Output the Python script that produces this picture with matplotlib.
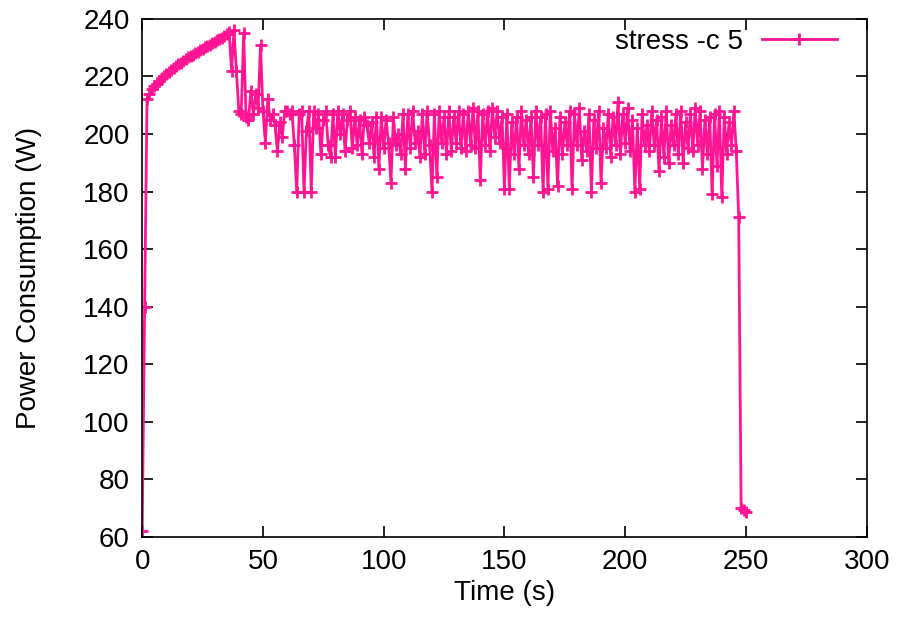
import numpy as np
import matplotlib
matplotlib.use("Agg")
import matplotlib.pyplot as plt

# power readings, one per second
warmup = [62, 140, 212, 214, 215.5, 216.5, 217.5, 218.5, 219.5, 220.3,
          221, 221.7, 222.3, 223, 223.6, 224.2, 224.8, 225.4, 226, 226.6,
          227.1, 227.6, 228.1, 228.6, 229.1, 229.6, 230.1, 230.6, 231, 231.5,
          232, 232.5, 233, 233.5, 234, 234.6, 235.5]
transition = [222, 236, 222, 208, 207, 235, 206, 205, 215, 207,
              214, 209, 231, 208, 197, 212, 205, 207, 203, 194,
              204, 199, 208]
steady = [208, 207, 208, 196, 180, 207, 208, 180, 201, 208,
          180, 208, 202, 207, 193, 205, 208, 196, 192, 207,
          192, 208, 200, 207, 194, 205, 208, 195, 206, 196,
          205, 193, 206, 203, 197, 204, 192, 206, 188, 206,
          195, 205, 197, 183, 206, 196, 200, 193, 207, 188,
          207, 195, 208, 197, 201, 192, 207, 193, 208, 196,
          180, 207, 185, 208, 197, 206, 193, 208, 194, 206,
          197, 208, 195, 207, 194, 208, 196, 209, 195, 208,
          184, 207, 196, 208, 194, 209, 199, 208, 197, 206,
          181, 207, 181, 204, 193, 206, 188, 208, 196, 205,
          193, 206, 185, 208, 196, 206, 180, 207, 181, 208,
          194, 202, 182, 206, 193, 204, 196, 208, 181, 207,
          196, 209, 191, 201, 194, 207, 180, 205, 195, 208,
          183, 202, 195, 207, 192, 206, 196, 211, 193, 207,
          197, 209, 194, 205, 180, 202, 181, 207, 196, 203,
          194, 208, 196, 205, 187, 206, 192, 208, 190, 203,
          196, 207, 193, 208, 190, 204, 195, 207, 194, 209,
          196, 208, 188, 205, 193, 206, 179, 207, 189, 208,
          178, 206, 193, 204, 196, 208, 194]
cooldown = [171, 70, 69.5, 68.5]

power = warmup + transition + steady + cooldown
t = np.arange(len(power))

plt.rcParams['font.family'] = ['Liberation Sans', 'DejaVu Sans']
plt.rcParams['font.size'] = 20

fig = plt.figure(figsize=(9, 6.28), dpi=100)
ax = fig.add_axes([0.158, 0.145, 0.805, 0.825])

ax.plot(t, power, color='#ff1493', lw=2, marker='+', ms=8, mew=2,
        label='stress -c 5')

ax.set_xlim(0, 300)
ax.set_ylim(60, 240)
ax.set_xticks(range(0, 301, 50))
ax.set_yticks(range(60, 241, 20))
ax.tick_params(direction='in', length=8, width=1.2, top=True, right=True, pad=9)
for s in ax.spines.values():
    s.set_linewidth(1.2)

ax.set_xlabel('Time (s)', labelpad=3)
ax.set_ylabel('Power Consumption (W)', labelpad=30)

ax.legend(loc='upper right', bbox_to_anchor=(0.959, 0.98), frameon=False,
          markerfirst=False, handlelength=2.7, handletextpad=0.7,
          borderpad=0, borderaxespad=0)

fig.savefig('out.png', dpi=100)
